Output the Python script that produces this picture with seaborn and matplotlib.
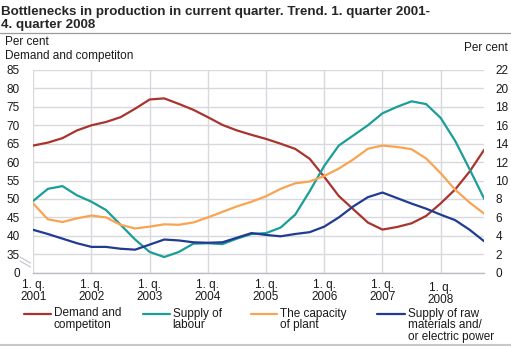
import matplotlib
matplotlib.use("Agg")
import matplotlib.pyplot as plt
from matplotlib.lines import Line2D
import matplotlib.transforms as mtransforms
import numpy as np
import pandas as pd
import seaborn as sns

# Quarterly trend series, 1st quarter 2001 - 4th quarter 2008
quarters = [f"{q}. q. {y}" for y in range(2001, 2009) for q in range(1, 5)]

# Left axis (per cent)
demand = [64.5, 65.3, 66.5, 68.6, 70.0, 70.9, 72.2, 74.5, 77.0, 77.3, 75.8, 74.2,
          72.2, 70.1, 68.6, 67.4, 66.3, 65.0, 63.6, 60.9, 56.0, 50.8, 47.2, 43.6,
          41.7, 42.4, 43.4, 45.4, 48.8, 52.6, 57.5, 63.4]

# Right axis (per cent)
labour = [7.8, 9.1, 9.4, 8.4, 7.7, 6.8, 5.2, 3.6, 2.25, 1.7, 2.25, 3.15,
          3.2, 3.1, 3.7, 4.2, 4.3, 4.9, 6.3, 8.85, 11.6, 13.8, 14.9, 16.0,
          17.3, 18.0, 18.6, 18.3, 16.8, 14.3, 11.2, 8.0]
capacity = [7.5, 5.8, 5.5, 5.9, 6.2, 6.0, 5.2, 4.8, 5.0, 5.25, 5.2, 5.45,
            6.0, 6.6, 7.2, 7.7, 8.3, 9.1, 9.7, 9.9, 10.5, 11.3, 12.3, 13.45,
            13.8, 13.65, 13.4, 12.4, 10.8, 9.0, 7.6, 6.4]
raw = [4.65, 4.2, 3.7, 3.2, 2.8, 2.8, 2.6, 2.5, 3.05, 3.6, 3.5, 3.3,
       3.25, 3.3, 3.8, 4.3, 4.1, 3.95, 4.2, 4.4, 5.0, 6.0, 7.2, 8.2,
       8.7, 8.1, 7.5, 6.95, 6.3, 5.7, 4.65, 3.4]

years = ["2001", "2002", "2003", "2004", "2005", "2006", "2007", "2008"]
left_ticks = [30, 35, 40, 45, 50, 55, 60, 65, 70, 75, 80, 85]
left_labels = ["0", "35", "40", "45", "50", "55", "60", "65", "70", "75", "80", "85"]
right_ticks = list(range(0, 23, 2))

names = ["Demand and\ncompetiton", "Supply of\nlabour", "The capacity\nof plant",
         "Supply of raw\nmaterials and/\nor electric power"]
colors = ["#a9342d", "#1a9e98", "#f8a452", "#213a92"]

sns.set_theme(style="white")
plt.rcParams["font.family"] = ["Liberation Sans", "DejaVu Sans"]

W, H = 511, 348
fig = plt.figure(figsize=(W / 100, H / 100), dpi=100)
x0, x1, y_top, y_bot = 33.3, 484.3, 70.0, 272.7
ax = fig.add_axes([x0 / W, 1 - y_bot / H, (x1 - x0) / W, (y_bot - y_top) / H])
ax2 = ax.twinx()

df_left = pd.DataFrame({"t": np.arange(len(quarters)), "value": demand})
df_right = pd.DataFrame({
    "t": np.tile(np.arange(len(quarters)), 3),
    "value": labour + capacity + raw,
    "series": [names[1]] * len(labour) + [names[2]] * len(capacity) + [names[3]] * len(raw),
})

sns.lineplot(data=df_left, x="t", y="value", ax=ax, color=colors[0], lw=1.6, zorder=3)
sns.lineplot(data=df_right, x="t", y="value", hue="series", ax=ax2,
             palette=dict(zip(names[1:], colors[1:])), lw=1.6, legend=False)

grid_c = "#d8d8de"
ax.set_xlim(0, len(quarters) - 1)
ax.set_ylim(30, 85)
ax2.set_ylim(0, 22)
ax.set_yticks(left_ticks)
ax.set_yticklabels(left_labels)
ax2.set_yticks(right_ticks)
ax2.set_yticklabels([str(v) for v in right_ticks])
ax.set_xticks(np.arange(0, len(quarters), 4))
ax.set_xticklabels([f"1. q.\n{y}" for y in years], linespacing=0.95)
ax.set_xticks(np.arange(len(quarters)), minor=True)
ax.set_xlabel("")
ax.set_ylabel("")
ax2.set_xlabel("")
ax2.set_ylabel("")

ax.grid(True, which="major", axis="both", color=grid_c, lw=1.0)
ax.set_axisbelow(True)
for a in (ax, ax2):
    for s in a.spines.values():
        s.set_visible(False)
ax.spines["bottom"].set_visible(True)
ax.spines["bottom"].set_color("#bcbcc4")
ax.spines["bottom"].set_linewidth(1.0)

ax.tick_params(axis="y", length=0, pad=9.5, labelsize=8.5, labelcolor="#1a1a1a")
ax2.tick_params(axis="y", length=0, pad=8, labelsize=8.5, labelcolor="#1a1a1a")
ax.tick_params(axis="x", which="major", length=0, pad=4.5, labelsize=8.5, labelcolor="#1a1a1a")
ax.tick_params(axis="x", which="minor", direction="in", length=4, width=0.8, color="#c4c4cc")
ax.xaxis.get_majorticklabels()[-1].set_y(-0.015)

# axis break marks on the left scale
tb = mtransforms.blended_transform_factory(fig.transFigure, fig.transFigure)
for dy in (0, 4):
    fig.add_artist(Line2D([20 / W, 30.5 / W], [1 - (257 + dy) / H, 1 - (263 + dy) / H],
                          color="#c8c8d0", lw=0.9, transform=tb))

# header
fig.text(1 / W, 1 - 5.5 / H, "Bottlenecks in production in current quarter. Trend. 1. quarter 2001-",
         fontsize=9.6, fontweight="bold", va="top", ha="left")
fig.text(1 / W, 1 - 18.8 / H, "4. quarter 2008",
         fontsize=9.6, fontweight="bold", va="top", ha="left")
fig.add_artist(Line2D([0, 1], [1 - 33 / H, 1 - 33 / H], color="#9a9a9a", lw=0.9))
fig.add_artist(Line2D([0, 1], [1 - 344.5 / H, 1 - 344.5 / H], color="#c8c8c8", lw=1.5))
fig.text(5 / W, 1 - 36 / H, "Per cent", fontsize=8.5, va="top", ha="left", color="#1a1a1a")
fig.text(5 / W, 1 - 50 / H, "Demand and competiton", fontsize=8.5, va="top", ha="left", color="#1a1a1a")
fig.text(508 / W, 1 - 42 / H, "Per cent", fontsize=8.5, va="top", ha="right", color="#1a1a1a")

# legend
leg_x = [(24, 51), (143, 170), (251, 277), (377, 405)]
for (lx0, lx1), name, c in zip(leg_x, names, colors):
    fig.add_artist(Line2D([lx0 / W, lx1 / W], [1 - 314 / H, 1 - 314 / H], color=c, lw=1.6))
    fig.text((lx1 + 2.5) / W, 1 - 307.5 / H, name, fontsize=8.5, va="top", ha="left",
             linespacing=0.95, color="#1a1a1a")

fig.savefig("out.png", dpi=100)
